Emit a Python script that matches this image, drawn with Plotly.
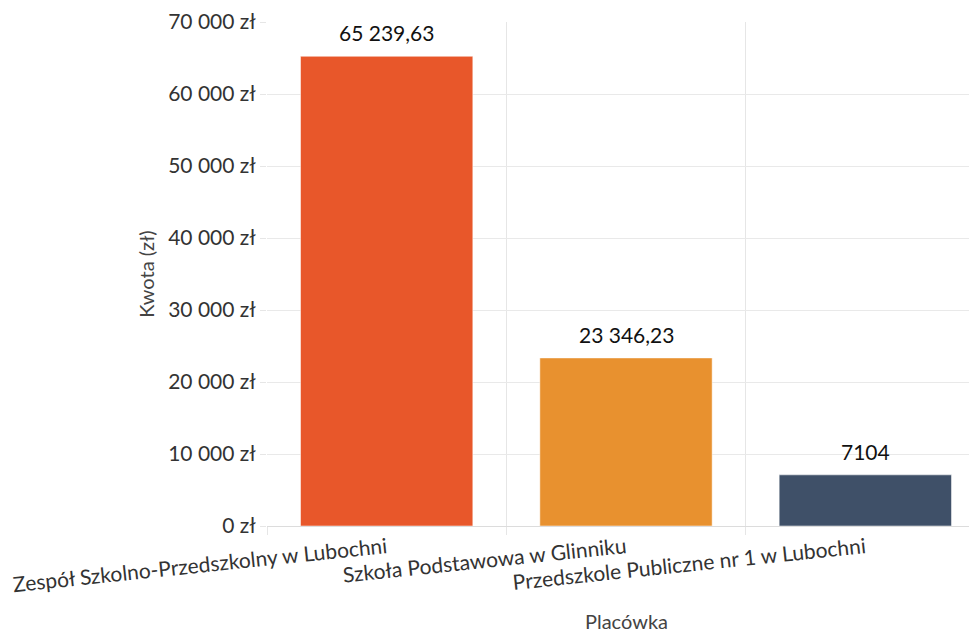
import plotly.graph_objects as go

categories = ["Zespół Szkolno-Przedszkolny w Lubochni",
              "Szkoła Podstawowa w Glinniku",
              "Przedszkole Publiczne nr 1 w Lubochni"]
values = [65239.63, 23346.23, 7104]
colors = ["#E8572A", "#E8912F", "#3F5068"]
y_ticks = [0, 10000, 20000, 30000, 40000, 50000, 60000, 70000]


def group(n):
    return f"{n:,}".replace(",", " ")


def fmt(v):
    if float(v).is_integer():
        n = int(v)
        return group(n) if n >= 10000 else str(n)
    whole, frac = f"{v:.2f}".split(".")
    w = int(whole)
    ws = group(w) if w >= 10000 else str(w)
    return ws + "," + frac


y_ticktext = [group(t) + " zł" for t in y_ticks]

fig = go.Figure()
fig.add_trace(go.Bar(
    x=categories, y=values,
    marker=dict(color=colors, line=dict(color="rgba(255,255,255,0.5)", width=1)),
    width=0.72,
    hoverinfo="x+y",
))

for c, v in zip(categories, values):
    fig.add_annotation(x=c, y=v, text=fmt(v), showarrow=False,
                       yanchor="bottom", yshift=9,
                       font=dict(family="Lato", size=21, color="#111111"))

fig.add_annotation(x=1, xref="x", y=-0.1885, yref="paper", text="Placówka",
                   showarrow=False, yanchor="middle",
                   font=dict(family="Lato", size=20, color="#444444"))

fig.update_layout(
    width=977, height=631,
    margin=dict(l=259, r=0, t=14, b=113),
    paper_bgcolor="white", plot_bgcolor="white",
    font=dict(family="Lato", size=20, color="#444444"),
    showlegend=False,
)
fig.update_xaxes(
    type="category",
    range=[-0.5, 2.5],
    tickson="boundaries",
    ticks="outside", ticklen=8, tickcolor="#e6e6e6",
    showgrid=True, gridcolor="#e6e6e6", gridwidth=1,
    tickangle=-6,
    ticklabelstandoff=5,
    tickfont=dict(family="Lato", size=21, color="#333333"),
    showline=False, zeroline=False,
    automargin=False,
)
fig.update_yaxes(
    range=[0, 70000],
    tickvals=y_ticks, ticktext=y_ticktext,
    ticks="outside", ticklen=6, tickcolor="#e6e6e6",
    showgrid=True, gridcolor="#e9e9e9", gridwidth=1,
    zeroline=True, zerolinecolor="#dcdcdc", zerolinewidth=1,
    showline=False,
    tickfont=dict(family="Lato", size=21, color="#333333"),
    title=dict(text="Kwota (zł)", font=dict(family="Lato", size=20, color="#444444"), standoff=8),
    automargin=False,
)

fig.write_html("out.html")
